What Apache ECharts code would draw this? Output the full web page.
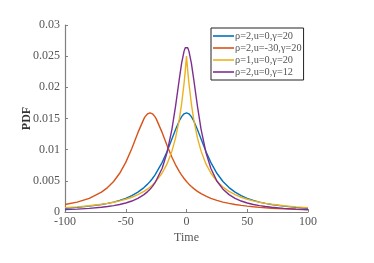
<!DOCTYPE html>
<html><head><meta charset="utf-8">
<script src="https://cdn.jsdelivr.net/npm/echarts@6/dist/echarts.min.js"></script>
<style>html,body{margin:0;padding:0;background:#fff}#c{width:374px;height:263px}</style>
</head><body><div id="c"></div>
<script>
const xs = [-100,-90,-80,-70,-65,-60,-55,-50,-45,-40,-35,-34,-32,-30,-28,-26,-25,-20,-16,-12,-9,-6,-4,-2,-1,0,1,2,4,6,9,12,16,20,25,30,35,40,45,50,55,60,65,70,80,90,100];
const seriesNames = ['ρ=2,u=0,γ=20','ρ=2,u=-30,γ=20','ρ=1,u=0,γ=20','ρ=2,u=0,γ=12'];
const blue = [0.000612,0.000749,0.000936,0.001201,0.001376,0.001592,0.001859,0.002195,0.002625,0.003183,0.003918,0.004091,0.004471,0.004897,0.005377,0.005917,0.006211,0.007958,0.009705,0.011703,0.013235,0.014601,0.015303,0.015758,0.015876,0.015915,0.015876,0.015758,0.015303,0.014601,0.013235,0.011703,0.009705,0.007958,0.006211,0.004897,0.003918,0.003183,0.002625,0.002195,0.001859,0.001592,0.001376,0.001201,0.000936,0.000749,0.000612];
const orange = [0.001201,0.001592,0.002195,0.003183,0.003918,0.004897,0.006211,0.007958,0.010186,0.012732,0.014979,0.015303,0.015758,0.015915,0.015758,0.015303,0.014979,0.012732,0.010682,0.008793,0.007570,0.006523,0.005917,0.005377,0.005130,0.004897,0.004678,0.004471,0.004091,0.003754,0.003314,0.002942,0.002530,0.002195,0.001859,0.001592,0.001376,0.001201,0.001057,0.000936,0.000835,0.000749,0.000676,0.000612,0.000509,0.000430,0.000368];
const yellow = [0.000694,0.000826,0.001000,0.001235,0.001384,0.001563,0.001778,0.002041,0.002367,0.002778,0.003306,0.003429,0.003698,0.004000,0.004340,0.004726,0.004938,0.006250,0.007716,0.009766,0.011891,0.014793,0.017361,0.020661,0.022676,0.025000,0.022676,0.020661,0.017361,0.014793,0.011891,0.009766,0.007716,0.006250,0.004938,0.004000,0.003306,0.002778,0.002367,0.002041,0.001778,0.001563,0.001384,0.001235,0.001000,0.000826,0.000694];
const purple = [0.000377,0.000463,0.000584,0.000757,0.000874,0.001020,0.001205,0.001445,0.001761,0.002190,0.002790,0.002938,0.003270,0.003659,0.004116,0.004658,0.004967,0.007021,0.009549,0.013263,0.016977,0.021221,0.023873,0.025809,0.026343,0.026526,0.026343,0.025809,0.023873,0.021221,0.016977,0.013263,0.009549,0.007021,0.004967,0.003659,0.002790,0.002190,0.001761,0.001445,0.001205,0.001020,0.000874,0.000757,0.000584,0.000463,0.000377];
const colors = ['#0072BD','#D95319','#EDB120','#7E2F8E'];
const allVals = [blue, orange, yellow, purple];

const chart = echarts.init(document.getElementById('c'), null, {renderer:'canvas'});
const font = 'Liberation Serif';
chart.setOption({
  animation:false,
  color: colors,
  grid:{left:65, right:66, top:25, bottom:51},
  legend:{
    data: seriesNames, orient:'vertical', left:211, top:28,
    icon:'rect', itemWidth:21, itemHeight:1.6, itemGap:0,
    borderColor:'#222', borderWidth:1, padding:[2,2,2,2],
    textStyle:{fontFamily:font, fontSize:10.3, lineHeight:12, color:'#555', padding:[0,0,0,-4]}
  },
  xAxis:{type:'value', min:-100, max:100, interval:50,
    name:'Time', nameLocation:'middle', nameGap:20, nameMoveOverlap:false,
    nameTextStyle:{fontFamily:font, fontSize:12, color:'#555'},
    axisLine:{lineStyle:{color:'#808080', width:1.2}},
    axisTick:{inside:true, length:3, lineStyle:{color:'#808080'}},
    axisLabel:{fontFamily:font, fontSize:12, color:'#555', margin:4},
    splitLine:{show:false}},
  yAxis:{type:'value', min:0, max:0.03, interval:0.005,
    name:'PDF', nameLocation:'middle', nameGap:32, nameMoveOverlap:false,
    nameTextStyle:{fontFamily:font, fontSize:12, color:'#333', fontWeight:'bold'},
    axisLine:{show:true, onZero:false, lineStyle:{color:'#808080', width:1.2}},
    axisTick:{show:true, inside:true, length:3, lineStyle:{color:'#808080'}},
    axisLabel:{fontFamily:font, fontSize:12, color:'#555', margin:5,
      formatter:v=>String(parseFloat(v.toFixed(3)))},
    splitLine:{show:false}},
  series: seriesNames.map((n,i)=>({
    name:n, type:'line', symbol:'none', smooth:false,
    lineStyle:{width:1.4, color:colors[i]},
    data: xs.map((x,j)=>[x, allVals[i][j]])
  }))
});
</script></body></html>
